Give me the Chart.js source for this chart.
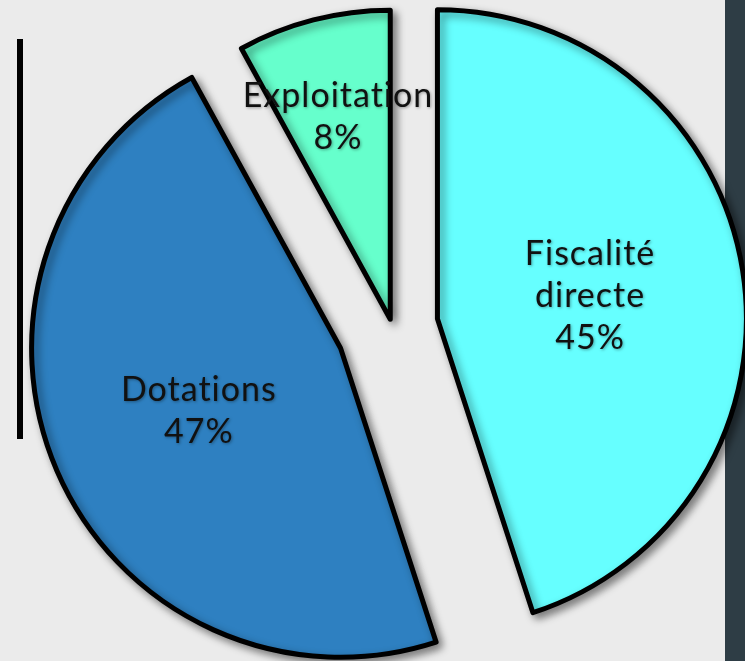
<!DOCTYPE html>
<html lang="fr">
<head>
    <meta charset="UTF-8">
    <title>Répartition des recettes</title>
    <script src="https://cdn.jsdelivr.net/npm/chart.js"></script>
    <style>
        body {
            margin: 0;
            background: #ebebeb;
        }
        #cadre {
            position: relative;
            width: 745px;
            height: 661px;
            overflow: hidden;
            background: #ebebeb;
        }
        .bande {
            position: absolute;
            left: 725px;
            top: 0;
            width: 20px;
            height: 661px;
            background: #2e3d45;
        }
        .trait {
            position: absolute;
            left: 17px;
            top: 39px;
            width: 6px;
            height: 400px;
            background: #000;
        }
        canvas {
            position: absolute;
            left: 0;
            top: 0;
        }
    </style>
</head>
<body>
    <div id="cadre">
        <div class="bande"></div>
        <div class="trait"></div>
        <canvas id="camembert" width="745" height="661"></canvas>
    </div>
    <script>
        // Données
        const categories = [['Fiscalité', 'directe'], 'Dotations', 'Exploitation'];
        const parts = [45, 47, 8];

        // Style
        const couleurs = ['#66ffff', '#2e80c1', '#66ffcc'];
        const ecarts = [46, 56, 7];          // décalage radial de chaque part (px)
        const posTexte = [0.5, 0.5, 0.68];   // position du texte (fraction du rayon)

        // décale chaque part le long de sa bissectrice, avec ombre portée
        const eclatement = {
            id: 'eclatement',
            beforeDatasetDraw(chart, args) {
                args.meta.data.forEach((arc, i) => {
                    if (arc._eclate) return;
                    const dessin = arc.draw;
                    arc.draw = function (ctx) {
                        const milieu = (this.startAngle + this.endAngle) / 2;
                        ctx.save();
                        ctx.translate(Math.cos(milieu) * ecarts[i], Math.sin(milieu) * ecarts[i]);
                        ctx.shadowColor = 'rgba(0, 0, 0, 0.45)';
                        ctx.shadowBlur = 9;
                        ctx.shadowOffsetX = 4;
                        ctx.shadowOffsetY = 4;
                        dessin.call(this, ctx);
                        ctx.restore();
                    };
                    arc._eclate = true;
                });
            }
        };

        const etiquettes = {
            id: 'etiquettes',
            afterDatasetsDraw(chart) {
                const ctx = chart.ctx;
                const meta = chart.getDatasetMeta(0);
                ctx.save();
                ctx.font = '34px Lato, sans-serif';
                ctx.letterSpacing = '1px';
                ctx.fillStyle = '#111';
                ctx.textAlign = 'center';
                ctx.textBaseline = 'alphabetic';
                ctx.shadowColor = 'rgba(0, 0, 0, 0.35)';
                ctx.shadowBlur = 3;
                ctx.shadowOffsetX = 1;
                ctx.shadowOffsetY = 1;
                meta.data.forEach((arc, i) => {
                    const milieu = (arc.startAngle + arc.endAngle) / 2;
                    const d = ecarts[i] + arc.outerRadius * posTexte[i];
                    const x = arc.x + Math.cos(milieu) * d;
                    const y = arc.y + Math.sin(milieu) * d;
                    const lignes = [].concat(categories[i], parts[i] + '%');
                    const h = 42;
                    lignes.forEach((t, k) => {
                        ctx.fillText(t, x, y + 12 + (k - (lignes.length - 1) / 2) * h);
                    });
                });
                ctx.restore();
            }
        };

        new Chart(document.getElementById('camembert'), {
            type: 'pie',
            data: {
                labels: categories,
                datasets: [{
                    data: parts,
                    backgroundColor: couleurs,
                    borderColor: '#000',
                    borderWidth: 5,
                    borderJoinStyle: 'round'
                }]
            },
            options: {
                responsive: false,
                animation: false,
                events: [],
                radius: 309,
                layout: {
                    padding: { left: 39, bottom: 9 }
                },
                plugins: {
                    legend: { display: false },
                    tooltip: { enabled: false }
                }
            },
            plugins: [eclatement, etiquettes]
        });
    </script>
</body>
</html>
